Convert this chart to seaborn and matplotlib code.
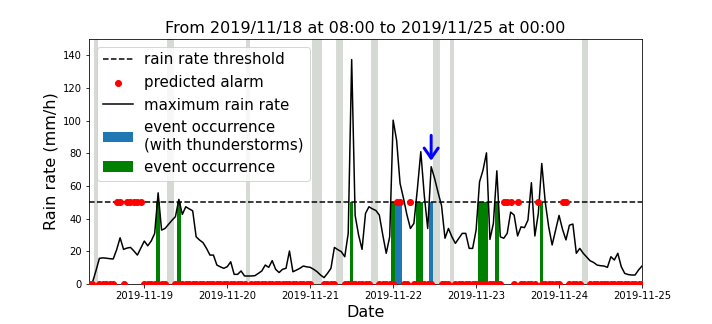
import numpy as np
import pandas as pd
import matplotlib
matplotlib.use("Agg")
import matplotlib.pyplot as plt
import matplotlib.dates as mdates
import seaborn as sns
from datetime import timedelta

nan = np.nan

START = "2019-11-18 08:00"
END = "2019-11-25 00:00"
THRESHOLD = 50

# hourly maximum rain rate (mm/h), from START
MAX_RAIN_RATE = [
    nan, 1, 8, 15.7, 16, 15.8, 15.5, 15.3, 21, 28.3, 21.2, 22, 22.4, 20.2, 17.7, 22, 26.3, 23.4, 26.3, 31, 55.8, 33, 34, 36.5,
    39, 41.2, 51.8, 42.6, 47.3, 46, 44.8, 28.9, 26.9, 25.3, 21.8, 17.7, 17.7, 11.6, 10.5, 9.6, 10.6, 13.6, 5.9, 5.9, 8, 4.9, 4.9, 4.9,
    5.1, 6.5, 8, 11.6, 10.2, 14.3, 9, 7, 9, 9.6, 20.2, 7.5, 8.5, 9.6, 11, 10.5, 10.2, 9, 7.5, 5.5, 3.9, 6.5, 9.6, 22.4,
    21, 19.8, 16.7, 31, 137.4, 42, 30, 21.2, 43.2, 47.3, 46, 45, 42.2, 30, 18.8, 28.9, 100.3, 88, 61.6, 52.4, 42.2, 34, 37.1, 58,
    81, 54.4, 34, 71.8, 64.6, 56, 48, 28, 34, 28.9, 24.9, 28, 31, 31, 21.8, 21.8, 33, 62.6, 69.7, 80.3, 27.3, 37.1, 69.3, 28.9,
    28, 31, 44, 42.2, 29.4, 35, 34.5, 39.1, 62, 29.4, 43.2, 73.8, 50.3, 35, 23.9, 33, 42, 33.5, 27, 36, 36.7, 18.8, 21.8, 18.8,
    16.5, 14.2, 13.2, 11.6, 11.2, 11, 10.2, 16.7, 14.7, 18.8, 10.6, 6.5, 5.8, 5.5, 5.5, 8.6, 11,
]

# hourly predicted alarm (1 = alarm, 0 = no alarm, nan = no data)
PREDICTED_ALARM = [
    0, 0, nan, 0, 0, 0, 0, 0, 1, 1, 0, 1, 1, 1, 1, 1, 0, 0, 0, 0, 0, 0, 0, nan,
    nan, 0, 0, 0, 0, 0, 0, 0, 0, 0, 0, 0, 0, 0, 0, 0, 0, 0, 0, 0, 0, 0, nan, 0,
    0, 0, 0, 0, 0, 0, 0, 0, 0, 0, 0, 0, 0, 0, 0, 0, 0, nan, nan, nan, 0, 0, 0, 0,
    nan, nan, 0, 0, 0, 0, 0, 0, 0, 0, nan, nan, 0, 0, 0, 0, 0, 1, 1, 0, 0, 1, 0, 0,
    0, 0, 0, 0, nan, nan, 0, 0, 0, nan, 0, 0, 0, 0, 0, 0, 0, 0, 0, 0, 0, 0, 0, 0,
    1, 1, 1, 0, 1, 0, 0, 0, 0, 0, 1, 0, 0, 0, 0, 0, 0, 1, 1, 0, 0, 0, 0, nan,
    nan, 0, 0, 0, 0, 0, 0, 0, 0, 0, 0, 0, 0, 0, 0, 0, 0,
]

EVENT_TIMES = [
    "2019-11-19 04:00", "2019-11-19 10:00", "2019-11-21 12:00", "2019-11-22 00:00",
    "2019-11-22 07:00", "2019-11-22 08:00", "2019-11-23 01:00", "2019-11-23 02:00",
    "2019-11-23 03:00", "2019-11-23 06:00", "2019-11-23 19:00",
]
THUNDER_EVENT_TIMES = ["2019-11-22 01:00", "2019-11-22 02:00", "2019-11-22 11:00"]

ARROW_TIME = "2019-11-22 11:00"
ARROW_FROM, ARROW_TO = 91, 75.5

TITLE = "From 2019/11/18 at 08:00 to 2019/11/25 at 00:00"

times = pd.date_range(START, periods=len(MAX_RAIN_RATE), freq="h")
df = pd.DataFrame({
    "time": times,
    "rain": MAX_RAIN_RATE,
    "alarm": np.array(PREDICTED_ALARM, dtype=float) * THRESHOLD,
})

W, H = 712, 324
fig = plt.figure(figsize=(W / 72, H / 72), dpi=72)
ax = fig.add_axes([89 / W, 1 - 284 / H, (642 - 89) / W, (284 - 39) / H])

hour = timedelta(hours=1)
missing = df["time"][np.isnan(np.array(PREDICTED_ALARM, dtype=float))]
for t in missing:
    ax.axvspan(t - hour / 2, t + hour / 2, color="#d5dad5", lw=0, zorder=0)

ax.bar(list(pd.to_datetime(THUNDER_EVENT_TIMES).to_pydatetime()), THRESHOLD, width=hour,
       color="#1f77b4", lw=0, label="event occurrence\n(with thunderstorms)", zorder=1)
ax.bar(list(pd.to_datetime(EVENT_TIMES).to_pydatetime()), THRESHOLD, width=hour,
       color="green", lw=0, label="event occurrence", zorder=1)
ax.axhline(THRESHOLD, color="k", ls="--", lw=1.5, label="rain rate threshold", zorder=2)
sns.lineplot(data=df, x="time", y="rain", color="k", lw=1.5, label="maximum rain rate",
             ax=ax, zorder=3)
sns.scatterplot(data=df, x="time", y="alarm", color="red", s=36, edgecolor="red",
                linewidth=1, label="predicted alarm", ax=ax, zorder=4)

at = pd.Timestamp(ARROW_TIME)
ax.annotate("", xy=(at, ARROW_TO), xytext=(at, ARROW_FROM),
            arrowprops=dict(arrowstyle="->, head_length=0.5, head_width=0.35",
                            color="blue", lw=3, mutation_scale=20,
                            shrinkA=0, shrinkB=0), zorder=5)

ax.set_xlim(pd.Timestamp(START), pd.Timestamp(END))
ax.set_ylim(0, 150)
ax.set_yticks(np.arange(0, 141, 20))
ax.xaxis.set_major_locator(mdates.DayLocator())
ax.xaxis.set_major_formatter(mdates.DateFormatter("%Y-%m-%d"))
ax.tick_params(labelsize=10)
ax.set_title(TITLE, fontsize=16)
ax.set_xlabel("Date", fontsize=16)
ax.set_ylabel("Rain rate (mm/h)", fontsize=16)

order = ["rain rate threshold", "predicted alarm", "maximum rain rate",
         "event occurrence\n(with thunderstorms)", "event occurrence"]
handles, labels = ax.get_legend_handles_labels()
hmap = dict(zip(labels, handles))
ax.legend([hmap[l] for l in order], order, loc="upper left", fontsize=15)

fig.savefig("out.png", dpi=72)
